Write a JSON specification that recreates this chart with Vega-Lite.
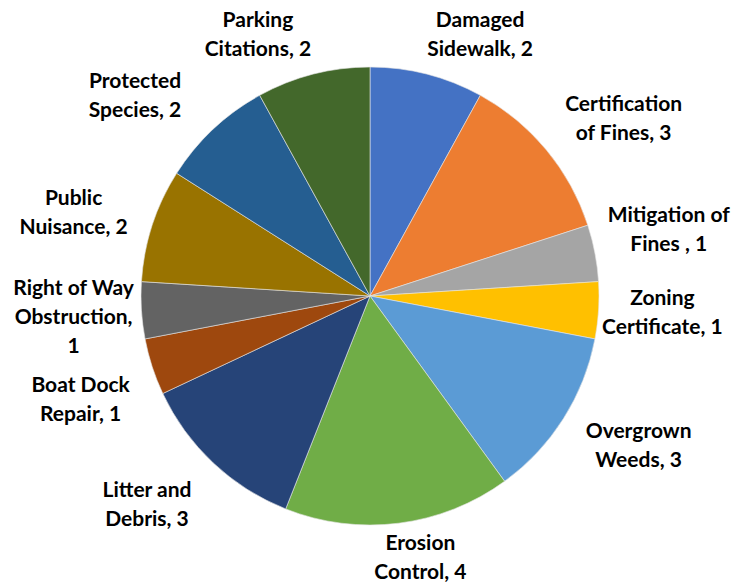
{
  "$schema": "https://vega.github.io/schema/vega-lite/v6.json",
  "width": 740,
  "height": 572,
  "autosize": "none",
  "padding": {"left": 0, "top": 10, "right": 5, "bottom": 0},
  "background": "white",
  "view": {"stroke": null},
  "data": {
    "values": [
      {"order": 1, "category": "Damaged Sidewalk", "label": "Damaged\nSidewalk, 2", "count": 2},
      {"order": 2, "category": "Certification of Fines", "label": "Certification\nof Fines, 3", "count": 3},
      {"order": 3, "category": "Mitigation of Fines", "label": "Mitigation of\nFines , 1", "count": 1},
      {"order": 4, "category": "Zoning Certificate", "label": "Zoning\nCertificate, 1", "count": 1},
      {"order": 5, "category": "Overgrown Weeds", "label": "Overgrown\nWeeds, 3", "count": 3},
      {"order": 6, "category": "Erosion Control", "label": "Erosion\nControl, 4", "count": 4},
      {"order": 7, "category": "Litter and Debris", "label": "Litter and\nDebris, 3", "count": 3},
      {"order": 8, "category": "Boat Dock Repair", "label": "Boat Dock\nRepair, 1", "count": 1},
      {"order": 9, "category": "Right of Way Obstruction", "label": "Right of Way\nObstruction,\n1", "count": 1},
      {"order": 10, "category": "Public Nuisance", "label": "Public\nNuisance, 2", "count": 2},
      {"order": 11, "category": "Protected Species", "label": "Protected\nSpecies, 2", "count": 2},
      {"order": 12, "category": "Parking Citations", "label": "Parking\nCitations, 2", "count": 2}
    ]
  },
  "encoding": {
    "theta": {"field": "count", "type": "quantitative", "stack": true},
    "order": {"field": "order", "type": "quantitative"}
  },
  "layer": [
    {
      "mark": {"type": "arc", "outerRadius": 229, "stroke": "#e6e6e6", "strokeWidth": 0.6},
      "encoding": {
        "color": {
          "field": "category",
          "type": "nominal",
          "scale": {
            "domain": ["Damaged Sidewalk", "Certification of Fines", "Mitigation of Fines", "Zoning Certificate", "Overgrown Weeds", "Erosion Control", "Litter and Debris", "Boat Dock Repair", "Right of Way Obstruction", "Public Nuisance", "Protected Species", "Parking Citations"],
            "range": ["#4472C4", "#ED7D31", "#A5A5A5", "#FFC000", "#5B9BD5", "#70AD47", "#264478", "#9E480E", "#636363", "#997300", "#255E91", "#43682B"]
          },
          "legend": null
        }
      }
    },
    {
      "mark": {"type": "text", "radius": 298, "dx": 36, "dy": 14, "font": "Lato", "fontWeight": "bold", "fontSize": 21, "lineBreak": "\n", "lineHeight": 29, "align": "center", "baseline": "middle", "color": "#000000"},
      "encoding": {"text": {"condition": {"test": "datum.category == 'Damaged Sidewalk'", "field": "label"}, "value": ""}}
    },
    {
      "mark": {"type": "text", "radius": 298, "dx": 24, "dy": -1, "font": "Lato", "fontWeight": "bold", "fontSize": 21, "lineBreak": "\n", "lineHeight": 29, "align": "center", "baseline": "middle", "color": "#000000"},
      "encoding": {"text": {"condition": {"test": "datum.category == 'Certification of Fines'", "field": "label"}, "value": ""}}
    },
    {
      "mark": {"type": "text", "radius": 298, "dx": 6, "dy": -24, "font": "Lato", "fontWeight": "bold", "fontSize": 21, "lineBreak": "\n", "lineHeight": 29, "align": "center", "baseline": "middle", "color": "#000000"},
      "encoding": {"text": {"condition": {"test": "datum.category == 'Mitigation of Fines'", "field": "label"}, "value": ""}}
    },
    {
      "mark": {"type": "text", "radius": 298, "dx": -5, "dy": -16, "font": "Lato", "fontWeight": "bold", "fontSize": 21, "lineBreak": "\n", "lineHeight": 29, "align": "center", "baseline": "middle", "color": "#000000"},
      "encoding": {"text": {"condition": {"test": "datum.category == 'Zoning Certificate'", "field": "label"}, "value": ""}}
    },
    {
      "mark": {"type": "text", "radius": 298, "dx": 17, "dy": -24, "font": "Lato", "fontWeight": "bold", "fontSize": 21, "lineBreak": "\n", "lineHeight": 29, "align": "center", "baseline": "middle", "color": "#000000"},
      "encoding": {"text": {"condition": {"test": "datum.category == 'Overgrown Weeds'", "field": "label"}, "value": ""}}
    },
    {
      "mark": {"type": "text", "radius": 298, "dx": 13, "dy": -48, "font": "Lato", "fontWeight": "bold", "fontSize": 21, "lineBreak": "\n", "lineHeight": 29, "align": "center", "baseline": "middle", "color": "#000000"},
      "encoding": {"text": {"condition": {"test": "datum.category == 'Erosion Control'", "field": "label"}, "value": ""}}
    },
    {
      "mark": {"type": "text", "radius": 298, "dx": -19, "dy": -22, "font": "Lato", "fontWeight": "bold", "fontSize": 21, "lineBreak": "\n", "lineHeight": 29, "align": "center", "baseline": "middle", "color": "#000000"},
      "encoding": {"text": {"condition": {"test": "datum.category == 'Litter and Debris'", "field": "label"}, "value": ""}}
    },
    {
      "mark": {"type": "text", "radius": 298, "dx": -6, "dy": -2, "font": "Lato", "fontWeight": "bold", "fontSize": 21, "lineBreak": "\n", "lineHeight": 29, "align": "center", "baseline": "middle", "color": "#000000"},
      "encoding": {"text": {"condition": {"test": "datum.category == 'Boat Dock Repair'", "field": "label"}, "value": ""}}
    },
    {
      "mark": {"type": "text", "radius": 298, "dx": 1, "dy": -26, "font": "Lato", "fontWeight": "bold", "fontSize": 21, "lineBreak": "\n", "lineHeight": 29, "align": "center", "baseline": "middle", "color": "#000000"},
      "encoding": {"text": {"condition": {"test": "datum.category == 'Right of Way Obstruction'", "field": "label"}, "value": ""}}
    },
    {
      "mark": {"type": "text", "radius": 298, "dx": -13, "dy": -5, "font": "Lato", "fontWeight": "bold", "fontSize": 21, "lineBreak": "\n", "lineHeight": 29, "align": "center", "baseline": "middle", "color": "#000000"},
      "encoding": {"text": {"condition": {"test": "datum.category == 'Public Nuisance'", "field": "label"}, "value": ""}}
    },
    {
      "mark": {"type": "text", "radius": 298, "dx": -31, "dy": 3, "font": "Lato", "fontWeight": "bold", "fontSize": 21, "lineBreak": "\n", "lineHeight": 29, "align": "center", "baseline": "middle", "color": "#000000"},
      "encoding": {"text": {"condition": {"test": "datum.category == 'Protected Species'", "field": "label"}, "value": ""}}
    },
    {
      "mark": {"type": "text", "radius": 298, "dx": -38, "dy": 14, "font": "Lato", "fontWeight": "bold", "fontSize": 21, "lineBreak": "\n", "lineHeight": 29, "align": "center", "baseline": "middle", "color": "#000000"},
      "encoding": {"text": {"condition": {"test": "datum.category == 'Parking Citations'", "field": "label"}, "value": ""}}
    }
  ]
}
